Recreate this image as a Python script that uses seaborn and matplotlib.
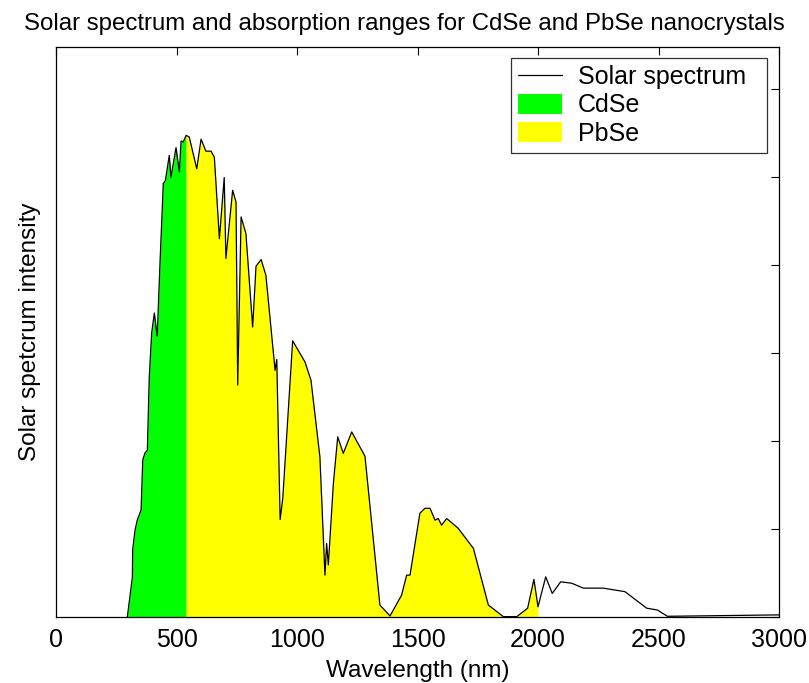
import numpy as np
import pandas as pd
import matplotlib
matplotlib.use("Agg")
import matplotlib.pyplot as plt
import seaborn as sns
from matplotlib.patches import Patch
from matplotlib.lines import Line2D

# Wavelength (nm) and solar spectrum intensity (arbitrary units)
wavelength = [296, 317, 318, 328, 337, 353, 360, 369, 379, 387, 397, 408, 420, 432,
              443, 445, 454, 470, 477, 498, 512, 519, 528, 540, 553, 584, 602, 622,
              643, 657, 678, 698, 705, 733, 747, 754, 768, 788, 816, 830, 851, 871,
              909, 916, 930, 941, 982, 1033, 1058, 1095, 1116, 1123, 1130, 1151, 1169,
              1192, 1227, 1282, 1344, 1386, 1434, 1455, 1469, 1510, 1531, 1552, 1573,
              1586, 1600, 1621, 1669, 1732, 1794, 1856, 1912, 1957, 1983, 2000, 2032,
              2059, 2094, 2140, 2188, 2271, 2361, 2451, 2495, 2537, 3000]
intensity = [0.0, 0.114, 0.190, 0.247, 0.275, 0.304, 0.446, 0.466, 0.474, 0.682, 0.807,
             0.864, 0.798, 1.014, 1.194, 1.232, 1.241, 1.312, 1.250, 1.334, 1.265, 1.353,
             1.350, 1.369, 1.364, 1.274, 1.358, 1.324, 1.324, 1.307, 1.075, 1.249, 1.019,
             1.213, 1.179, 0.659, 1.137, 1.090, 0.824, 0.997, 1.016, 0.971, 0.701, 0.732,
             0.277, 0.337, 0.785, 0.725, 0.673, 0.455, 0.119, 0.209, 0.148, 0.380, 0.512,
             0.465, 0.526, 0.457, 0.034, 0.003, 0.062, 0.119, 0.119, 0.295, 0.309, 0.309,
             0.275, 0.280, 0.261, 0.280, 0.252, 0.195, 0.034, 0.001, 0.001, 0.025, 0.107,
             0.029, 0.114, 0.067, 0.100, 0.096, 0.082, 0.082, 0.072, 0.025, 0.020, 0.002,
             0.006]

cdse_range = [0, 540]
pbse_range = [540, 2000]

title_text = "Solar spectrum and absorption ranges for CdSe and PbSe nanocrystals"
xlabel_text = "Wavelength (nm)"
ylabel_text = "Solar spetcrum intensity"
xticks = [0, 500, 1000, 1500, 2000, 2500, 3000]
legend_labels = ["Solar spectrum", "CdSe", "PbSe"]

df = pd.DataFrame({"wavelength": wavelength, "intensity": intensity})

sns.set_style("white")
plt.rcParams['font.family'] = ['Liberation Sans', 'DejaVu Sans']
plt.rcParams['text.color'] = 'black'
plt.rcParams['axes.labelcolor'] = 'black'

fig = plt.figure(figsize=(8.09, 6.83), dpi=100)
ax = fig.add_axes([56/809, 66/683, (779-56)/809, (617-47)/683])

x = df["wavelength"].to_numpy()
y = df["intensity"].to_numpy()
m1 = (x >= cdse_range[0]) & (x <= cdse_range[1])
m2 = (x >= pbse_range[0]) & (x <= pbse_range[1])
ax.fill_between(x[m1], 0, y[m1], color="#00ff00", linewidth=0)
ax.fill_between(x[m2], 0, y[m2], color="#ffff00", linewidth=0)
sns.lineplot(data=df, x="wavelength", y="intensity", color="black", linewidth=0.9,
             ax=ax, legend=False)

ax.set_xlim(0, 3000)
ax.set_ylim(0, 1.62)
ax.set_xticks(xticks)
ax.set_xticklabels([str(t) for t in xticks])
ax.set_yticks(np.arange(0, 1.51, 0.25))
ax.set_yticklabels([])
ax.tick_params(direction="in", top=True, right=True, length=6, width=0.8,
               labelsize=18, colors="black", labelcolor="black", pad=8)
for s in ax.spines.values():
    s.set_color("black")
    s.set_linewidth(0.9)
    s.set_visible(True)

ax.set_xlabel(xlabel_text, fontsize=17.5, labelpad=6, color="black")
ax.set_ylabel(ylabel_text, fontsize=17.5, labelpad=3, color="black")
ax.set_title(title_text, fontsize=17.3, pad=12, x=(404.5-56)/723, color="black")

handles = [Line2D([0], [0], color="black", linewidth=0.9),
           Patch(facecolor="#00ff00", edgecolor="none"),
           Patch(facecolor="#ffff00", edgecolor="none")]
leg = ax.legend(handles, legend_labels, loc="upper right",
                bbox_to_anchor=((511-56)/723, 0.5, 256/723, (617-58)/570 - 0.5),
                mode="expand",
                prop={"size": 18}, frameon=True, fancybox=False, borderaxespad=0,
                handlelength=1.75, handleheight=0.85, labelspacing=0.17,
                borderpad=0.28, handletextpad=0.65)
leg.get_frame().set_edgecolor("black")
leg.get_frame().set_linewidth(0.9)
for t in leg.get_texts():
    t.set_color("black")

fig.savefig("out.png", dpi=100)
